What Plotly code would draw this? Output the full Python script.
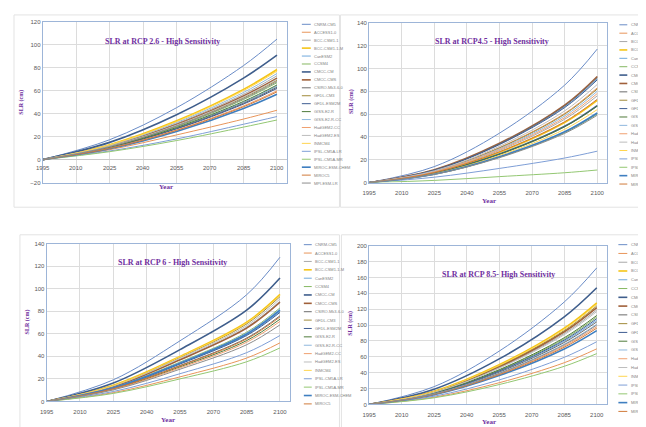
import plotly.graph_objects as go

W, H = 646, 427
OFF = 8  # default page margin of the html body

# ---------------- data ----------------
YEARS = [1995, 2025, 2055, 2085, 2100]
TICK_YEARS = [1995, 2010, 2025, 2040, 2055, 2070, 2085, 2100]

MODELS = ["CNRM-CM5", "ACCESS1-0", "BCC-CSM1-1", "BCC-CSM1-1-M", "CanESM2", "CCSM4",
          "CMCC-CM", "CMCC-CMS", "CSIRO-Mk3-6-0", "GFDL-CM3", "GFDL-ESM2M", "GISS-E2-R",
          "GISS-E2-R-CC", "HadGEM2-CC", "HadGEM2-ES", "INMCM4", "IPSL-CM5A-LR",
          "IPSL-CM5A-MR", "MIROC-ESM-CHEM", "MIROC5", "MPI-ESM-LR"]

COLORS = ["#6A8CC7", "#E8955A", "#A8A8A8", "#F5C518", "#6FA8DC", "#86B862",
          "#3F5E8C", "#A0603A", "#6B6B6B", "#A08A3A", "#3E5C91", "#4E7A3A",
          "#8FB8DE", "#F0A070", "#BDBDBD", "#FFD54F", "#7E9ED6", "#93C772",
          "#3F7FC0", "#D07A3A", "#8C8C8C"]
WIDTHS = [1, 1, 1, 1.6, 1, 1, 1.6, 1.6, 1, 1, 1, 1, 1, 1, 1, 1, 1, 1, 1.6, 1, 1]

rcp26 = [
    [0, 17.3, 45.2, 81.9, 105.0],
    [0, 8.6, 21.5, 35.3, 43.0],
    [0, 12.0, 31.4, 56.9, 73.0],
    [0, 13.0, 33.8, 61.2, 78.5],
    [0, 10.6, 27.5, 49.9, 64.0],
    [0, 11.1, 28.8, 52.3, 67.0],
    [0, 15.0, 39.1, 71.0, 91.0],
    [0, 11.7, 30.5, 55.4, 71.0],
    [0, 10.4, 27.1, 49.1, 63.0],
    [0, 11.4, 29.7, 53.8, 69.0],
    [0, 10.2, 26.7, 48.4, 62.0],
    [0, 10.7, 28.0, 50.7, 65.0],
    [0, 12.4, 32.3, 58.5, 75.0],
    [0, 9.9, 25.8, 46.8, 60.0],
    [0, 11.6, 30.1, 54.6, 70.0],
    [0, 12.7, 33.1, 60.1, 77.0],
    [0, 7.5, 18.0, 30.8, 37.5],
    [0, 6.9, 16.6, 28.3, 34.5],
    [0, 9.4, 24.5, 44.5, 57.0],
    [0, 9.7, 25.4, 46.0, 59.0],
    [0, 11.2, 29.2, 53.0, 68.0],
]

rcp45 = [
    [0, 14.0, 43.3, 85.4, 117.0],
    [0, 10.0, 30.7, 60.6, 83.0],
    [0, 9.1, 28.1, 55.5, 76.0],
    [0, 8.6, 26.6, 52.6, 72.0],
    [0, 10.9, 33.7, 66.4, 91.0],
    [0, 7.2, 22.2, 43.8, 60.0],
    [0, 8.1, 25.0, 49.3, 67.5],
    [0, 11.2, 34.4, 67.9, 93.0],
    [0, 11.0, 34.0, 67.2, 92.0],
    [0, 9.8, 30.3, 59.9, 82.0],
    [0, 10.8, 33.3, 65.7, 90.0],
    [0, 8.0, 24.8, 48.9, 67.0],
    [0, 9.6, 29.6, 58.4, 80.0],
    [0, 9.4, 28.9, 56.9, 78.0],
    [0, 10.3, 31.8, 62.8, 86.0],
    [0, 7.7, 23.7, 46.7, 64.0],
    [0, 4.7, 12.4, 21.5, 27.5],
    [0, 1.9, 5.2, 8.6, 11.0],
    [0, 7.3, 22.6, 44.5, 61.0],
    [0, 8.8, 27.0, 53.3, 73.0],
    [0, 7.1, 21.8, 43.1, 59.0],
]

rcp60 = [
    [0, 19.2, 53.8, 94.7, 128.0],
    [0, 7.8, 21.8, 38.5, 52.0],
    [0, 13.4, 37.4, 65.9, 89.0],
    [0, 14.3, 39.9, 70.3, 95.0],
    [0, 12.0, 33.6, 59.2, 80.0],
    [0, 12.5, 34.9, 61.4, 83.0],
    [0, 16.4, 46.0, 81.0, 109.5],
    [0, 13.2, 37.0, 65.1, 88.0],
    [0, 11.4, 31.9, 56.2, 76.0],
    [0, 14.0, 39.1, 68.8, 93.0],
    [0, 11.9, 33.2, 58.5, 79.0],
    [0, 11.0, 30.7, 54.0, 73.0],
    [0, 12.3, 34.4, 60.7, 82.0],
    [0, 10.7, 29.8, 52.5, 71.0],
    [0, 13.7, 38.2, 67.3, 91.0],
    [0, 14.1, 39.5, 69.6, 94.0],
    [0, 8.8, 24.6, 43.3, 58.5],
    [0, 7.1, 20.0, 35.2, 47.5],
    [0, 12.2, 34.0, 59.9, 81.0],
    [0, 11.3, 31.5, 55.5, 75.0],
    [0, 10.2, 28.6, 50.3, 68.0],
]

rcp85 = [
    [0, 22.4, 67.1, 129.0, 172.0],
    [0, 9.1, 27.3, 52.5, 70.0],
    [0, 15.5, 46.4, 89.3, 119.0],
    [0, 16.6, 49.9, 96.0, 128.0],
    [0, 13.8, 41.3, 79.5, 106.0],
    [0, 14.3, 42.9, 82.5, 110.0],
    [0, 19.1, 57.3, 110.3, 147.0],
    [0, 15.9, 47.6, 91.5, 122.0],
    [0, 13.5, 40.6, 78.0, 104.0],
    [0, 16.1, 48.4, 93.0, 124.0],
    [0, 14.0, 42.1, 81.0, 108.0],
    [0, 14.6, 43.7, 84.0, 112.0],
    [0, 13.1, 39.4, 75.8, 101.0],
    [0, 12.7, 38.2, 73.5, 98.0],
    [0, 15.2, 45.6, 87.8, 117.0],
    [0, 16.4, 49.1, 94.5, 126.0],
    [0, 10.3, 30.8, 59.3, 79.0],
    [0, 8.3, 25.0, 48.0, 64.0],
    [0, 12.1, 36.3, 69.8, 93.0],
    [0, 12.5, 37.4, 72.0, 96.0],
    [0, 13.0, 39.0, 75.0, 100.0],
]

TITLES = ["SLR at RCP 2.6 - High Sensitivity", "SLR at RCP4.5 - High Sensitivity",
          "SLR at RCP 6 - High Sensitivity", "SLR at RCP 8.5- High Sensitivity"]


# ---------------- layout helpers ----------------
def px(x):
    return (x - OFF) / W


def py(y):
    return 1 - (y - OFF) / H


PURPLE = "#7030A0"
SERIF = "Liberation Serif"
SANS = "Liberation Sans"

panels = [
    dict(data=rcp26, title=TITLES[0], plot=(36, 283, 19, 182), yr=(-20, 120), frame=(7, 336, 12, 207),
         title_xy=(157, 39), ytitle_xy=(15, 100), year_xy=(161, 187), leg=(298, 307, 21.5, 8.05, 21),
         inside_ticks=True),
    dict(data=rcp45, title=TITLES[1], plot=(366, 606.5, 20, 182), yr=(0, 140), frame=(337, 660, 12, 207),
         title_xy=(490, 39), ytitle_xy=(348, 100), year_xy=(487, 201), leg=(619, 627, 22, 8.5, 20),
         inside_ticks=False),
    dict(data=rcp60, title=TITLES[2], plot=(40, 286, 244, 404), yr=(0, 140), frame=(13, 336, 235, 440),
         title_xy=(167, 263), ytitle_xy=(21, 323), year_xy=(163, 423), leg=(300, 308, 245, 8.5, 20),
         inside_ticks=False),
    dict(data=rcp85, title=TITLES[3], plot=(366, 606, 246, 407), yr=(0, 200), frame=(338, 660, 235, 440),
         title_xy=(497, 275), ytitle_xy=(347, 325), year_xy=(487, 425), leg=(618, 627, 245, 8.9, 20),
         inside_ticks=False),
]

fig = go.Figure()
layout = dict(width=W, height=H, margin=dict(l=0, r=0, t=0, b=0), showlegend=False,
              paper_bgcolor="white", plot_bgcolor="rgba(0,0,0,0)")
shapes = []
annotations = []

for i, p in enumerate(panels):
    n = "" if i == 0 else str(i + 1)
    xa, ya = "x" + n, "y" + n
    x0, x1, y0, y1 = p["plot"]
    fx0, fx1, fy0, fy1 = p["frame"]
    shapes.append(dict(type="rect", xref="paper", yref="paper", x0=px(fx0), x1=px(fx1),
                       y0=py(fy1), y1=py(fy0), line=dict(color="#E3E3E3", width=1),
                       layer="below"))
    for k, vals in enumerate(p["data"]):
        fig.add_trace(go.Scatter(x=YEARS, y=vals, xaxis=xa, yaxis=ya, mode="lines",
                                 name=MODELS[k], line=dict(color=COLORS[k], width=WIDTHS[k],
                                                           shape="spline"),
                                 hoverinfo="skip"))
    layout["xaxis" + n] = dict(domain=[px(x0), px(x1)], anchor=ya, range=[1995, 2104.5],
                               tickmode="array", tickvals=TICK_YEARS,
                               ticktext=[str(t) for t in TICK_YEARS],
                               showticklabels=not p["inside_ticks"],
                               ticklabelstandoff=4,
                               tickfont=dict(family=SANS, size=6, color="#595959"),
                               showgrid=True, gridcolor="#DCDCDC", gridwidth=1,
                               showline=True, mirror=True, linecolor="#9DB5D8", linewidth=1,
                               zeroline=False, ticks="", fixedrange=True)
    layout["yaxis" + n] = dict(domain=[py(y1), py(y0)], anchor=xa, range=list(p["yr"]),
                               dtick=20, tick0=0,
                               tickfont=dict(family=SANS, size=6, color="#595959"),
                               showgrid=True, gridcolor="#DCDCDC", gridwidth=1,
                               showline=True, mirror=True, linecolor="#9DB5D8", linewidth=1,
                               zeroline=True, zerolinecolor="#C8C8C8", zerolinewidth=1,
                               ticks="", fixedrange=True)
    if p["inside_ticks"]:
        for t in TICK_YEARS:
            annotations.append(dict(x=t, y=0, xref=xa, yref=ya, text=str(t), showarrow=False,
                                    xanchor="center", yanchor="top", yshift=-3,
                                    font=dict(family=SANS, size=6, color="#595959")))
    tx, ty = p["title_xy"]
    annotations.append(dict(x=px(tx), y=py(ty), xref="paper", yref="paper",
                            text="<b>%s</b>" % p["title"], showarrow=False,
                            xanchor="center", yanchor="middle",
                            font=dict(family=SERIF, size=8, color=PURPLE)))
    yx, yy = p["ytitle_xy"]
    annotations.append(dict(x=px(yx), y=py(yy), xref="paper", yref="paper", text="<b>SLR (cm)</b>",
                            showarrow=False, textangle=-90, xanchor="center", yanchor="middle",
                            font=dict(family=SERIF, size=6, color=PURPLE)))
    rx, ry = p["year_xy"]
    annotations.append(dict(x=px(rx), y=py(ry), xref="paper", yref="paper", text="<b>Year</b>",
                            showarrow=False, xanchor="center", yanchor="middle",
                            font=dict(family=SERIF, size=7, color=PURPLE)))
    # legend (drawn as shapes + text)
    lx0, lx1, ly, step, cnt = p["leg"]
    for k in range(cnt):
        yk = ly + k * step
        shapes.append(dict(type="line", xref="paper", yref="paper", x0=px(lx0), x1=px(lx1),
                           y0=py(yk), y1=py(yk), line=dict(color=COLORS[k], width=WIDTHS[k])))
        annotations.append(dict(x=px(lx1 + 1.5), y=py(yk), xref="paper", yref="paper",
                                text=MODELS[k], showarrow=False, xanchor="left",
                                yanchor="middle",
                                font=dict(family=SANS, size=4, color="#7F7F7F")))

layout["shapes"] = shapes
layout["annotations"] = annotations
fig.update_layout(**layout)
fig.write_html("out.html")
